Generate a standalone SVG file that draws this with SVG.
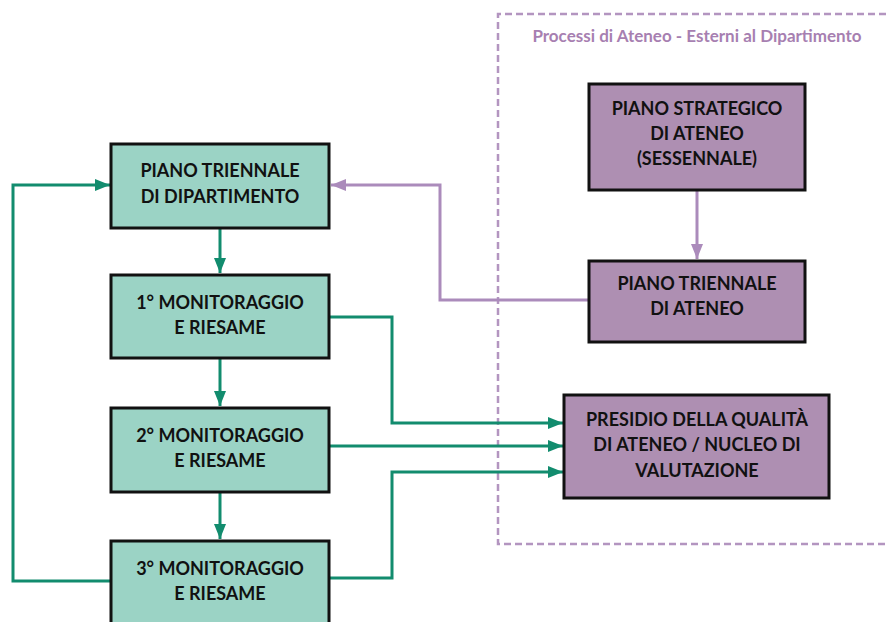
<svg xmlns="http://www.w3.org/2000/svg" width="886" height="622" viewBox="0 0 886 622">
<style>
.g{fill:#9bd3c5;stroke:#111;stroke-width:3}
.p{fill:#ae8fb2;stroke:#111;stroke-width:3}
.t{font-family:Lato,"Open Sans","Liberation Sans",sans-serif;font-weight:bold;font-size:18px;fill:#111;text-anchor:middle}
.cg{fill:none;stroke:#128c6e;stroke-width:3}
.cp{fill:none;stroke:#ab8bbb;stroke-width:3}
.ttl{font-family:Lato,"Open Sans","Liberation Sans",sans-serif;font-weight:bold;font-size:17px;fill:#a77fb1;text-anchor:middle}
</style>
<defs>
<marker id="ag" markerUnits="userSpaceOnUse" markerWidth="16" markerHeight="14" refX="15" refY="6" orient="auto"><path d="M0,0 L15,6 L0,12 Z" fill="#128c6e"/></marker>
<marker id="ap" markerUnits="userSpaceOnUse" markerWidth="16" markerHeight="14" refX="15" refY="6" orient="auto"><path d="M0,0 L15,6 L0,12 Z" fill="#ab8bbb"/></marker>
</defs>
<g id="region">
<path d="M886,14 H498 V544 H886" fill="none" stroke="#b395c0" stroke-width="2.5" stroke-dasharray="7,4"/>
<text class="ttl" x="697" y="42">Processi di Ateneo - Esterni al Dipartimento</text>
</g>
<g id="connectors">
<path class="cg" d="M111,581 H13 V185 H110" marker-end="url(#ag)"/>
<path class="cg" d="M220,228 V273" marker-end="url(#ag)"/>
<path class="cg" d="M220,358 V406" marker-end="url(#ag)"/>
<path class="cg" d="M220,492 V539" marker-end="url(#ag)"/>
<path class="cp" d="M589,300 H440 V185 H331" marker-end="url(#ap)"/>
<path class="cp" d="M697,190 V259" marker-end="url(#ap)"/>
<path class="cg" d="M329,317 H392 V423 H563" marker-end="url(#ag)"/>
<path class="cg" d="M329,446 H563" marker-end="url(#ag)"/>
<path class="cg" d="M329,578 H392 V472 H563" marker-end="url(#ag)"/>
</g>
<g id="n1"><rect class="g" x="111" y="144" width="218" height="84"/><text class="t" x="220" y="177">PIANO TRIENNALE</text><text class="t" x="220" y="203">DI DIPARTIMENTO</text></g>
<g id="n2"><rect class="g" x="111" y="275" width="218" height="83"/><text class="t" x="220" y="309">1° MONITORAGGIO</text><text class="t" x="220" y="334">E RIESAME</text></g>
<g id="n3"><rect class="g" x="111" y="408" width="218" height="84"/><text class="t" x="220" y="442">2° MONITORAGGIO</text><text class="t" x="220" y="467">E RIESAME</text></g>
<g id="n4"><rect class="g" x="111" y="541" width="218" height="90"/><text class="t" x="220" y="575">3° MONITORAGGIO</text><text class="t" x="220" y="600">E RIESAME</text></g>
<g id="n5"><rect class="p" x="589" y="84" width="216" height="106"/><text class="t" x="697" y="115">PIANO STRATEGICO</text><text class="t" x="697" y="140">DI ATENEO</text><text class="t" x="697" y="165">(SESSENNALE)</text></g>
<g id="n6"><rect class="p" x="589" y="261" width="216" height="81"/><text class="t" x="697" y="290">PIANO TRIENNALE</text><text class="t" x="697" y="315">DI ATENEO</text></g>
<g id="n7"><rect class="p" x="564" y="395" width="265" height="103"/><text class="t" x="697" y="426">PRESIDIO DELLA QUALITÀ</text><text class="t" x="697" y="451">DI ATENEO / NUCLEO DI</text><text class="t" x="697" y="477">VALUTAZIONE</text></g>
</svg>
